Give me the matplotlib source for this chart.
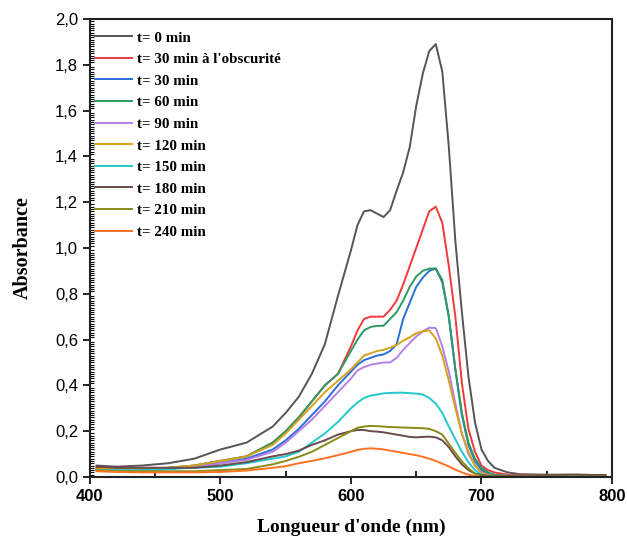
import matplotlib
matplotlib.use("Agg")
import matplotlib.pyplot as plt
from matplotlib.ticker import MultipleLocator, FuncFormatter

# wavelength grid (nm) shared by all spectra
wavelength = [405, 420, 440, 460, 480, 500, 520, 540, 550, 560, 570, 580, 590,
              600, 605, 610, 615, 620, 625, 630, 635, 640, 645, 650, 655, 660,
              665, 670, 675, 680, 685, 690, 695, 700, 705, 710, 720, 730, 750,
              770, 795]

abs_0 = [0.050, 0.045, 0.050, 0.060, 0.080, 0.120, 0.150, 0.220, 0.280, 0.350,
         0.450, 0.580, 0.790, 0.990, 1.100, 1.160, 1.165, 1.150, 1.135, 1.165,
         1.250, 1.330, 1.440, 1.620, 1.760, 1.860, 1.890, 1.770, 1.440, 1.030,
         0.720, 0.440, 0.240, 0.120, 0.070, 0.040, 0.020, 0.012, 0.010, 0.010,
         0.008]
abs_30_dark = [0.040, 0.040, 0.040, 0.040, 0.050, 0.070, 0.090, 0.150, 0.200,
               0.260, 0.330, 0.400, 0.450, 0.570, 0.640, 0.690, 0.700, 0.700,
               0.700, 0.730, 0.770, 0.840, 0.920, 1.000, 1.080, 1.160, 1.180,
               1.110, 0.920, 0.700, 0.410, 0.210, 0.110, 0.050, 0.030, 0.020,
               0.010, 0.010, 0.008, 0.008, 0.005]
abs_30 = [0.030, 0.030, 0.030, 0.035, 0.045, 0.060, 0.080, 0.120, 0.160, 0.210,
          0.270, 0.330, 0.400, 0.460, 0.490, 0.510, 0.520, 0.530, 0.535, 0.550,
          0.580, 0.690, 0.760, 0.830, 0.870, 0.900, 0.910, 0.850, 0.700, 0.470,
          0.270, 0.140, 0.070, 0.030, 0.015, 0.010, 0.005, 0.005, 0.005, 0.005,
          0.005]
abs_60 = [0.030, 0.030, 0.035, 0.040, 0.050, 0.070, 0.090, 0.150, 0.200, 0.260,
          0.330, 0.400, 0.450, 0.550, 0.600, 0.640, 0.655, 0.660, 0.660, 0.690,
          0.720, 0.770, 0.830, 0.875, 0.900, 0.910, 0.910, 0.860, 0.700, 0.470,
          0.280, 0.150, 0.080, 0.040, 0.020, 0.010, 0.005, 0.005, 0.005, 0.005,
          0.005]
abs_90 = [0.030, 0.030, 0.030, 0.035, 0.045, 0.060, 0.075, 0.110, 0.150, 0.200,
          0.250, 0.310, 0.370, 0.430, 0.465, 0.480, 0.490, 0.495, 0.500, 0.500,
          0.520, 0.555, 0.585, 0.613, 0.635, 0.652, 0.650, 0.570, 0.460, 0.320,
          0.190, 0.100, 0.050, 0.020, 0.010, 0.005, 0.005, 0.005, 0.005, 0.005,
          0.005]
abs_120 = [0.035, 0.035, 0.035, 0.040, 0.050, 0.070, 0.090, 0.140, 0.190, 0.250,
           0.310, 0.370, 0.420, 0.470, 0.500, 0.530, 0.540, 0.550, 0.555, 0.565,
           0.576, 0.595, 0.610, 0.627, 0.636, 0.640, 0.605, 0.530, 0.420, 0.300,
           0.190, 0.110, 0.050, 0.020, 0.008, 0.005, 0.005, 0.005, 0.005, 0.005,
           0.005]
abs_150 = [0.030, 0.030, 0.030, 0.035, 0.040, 0.045, 0.060, 0.080, 0.090, 0.110,
           0.150, 0.190, 0.240, 0.300, 0.325, 0.345, 0.355, 0.360, 0.365, 0.367,
           0.368, 0.368, 0.366, 0.364, 0.360, 0.345, 0.320, 0.280, 0.220, 0.165,
           0.110, 0.065, 0.030, 0.010, 0.005, 0.005, 0.005, 0.005, 0.005, 0.005,
           0.005]
abs_180 = [0.045, 0.040, 0.040, 0.040, 0.040, 0.050, 0.065, 0.090, 0.100, 0.115,
           0.140, 0.160, 0.185, 0.200, 0.205, 0.205, 0.200, 0.198, 0.195, 0.190,
           0.185, 0.180, 0.175, 0.173, 0.175, 0.176, 0.173, 0.160, 0.130, 0.090,
           0.055, 0.030, 0.015, 0.008, 0.005, 0.005, 0.005, 0.006, 0.008, 0.010,
           0.008]
abs_210 = [0.030, 0.025, 0.025, 0.025, 0.025, 0.030, 0.035, 0.055, 0.070, 0.088,
           0.110, 0.140, 0.170, 0.200, 0.215, 0.220, 0.223, 0.222, 0.220, 0.218,
           0.217, 0.216, 0.215, 0.214, 0.213, 0.210, 0.200, 0.185, 0.145, 0.105,
           0.068, 0.038, 0.015, 0.003, 0.002, 0.002, 0.002, 0.002, 0.002, 0.002,
           0.002]
abs_240 = [0.025, 0.022, 0.020, 0.020, 0.020, 0.022, 0.028, 0.040, 0.047, 0.060,
           0.070, 0.082, 0.095, 0.110, 0.118, 0.123, 0.125, 0.123, 0.120, 0.115,
           0.110, 0.105, 0.100, 0.095, 0.088, 0.080, 0.070, 0.058, 0.046, 0.032,
           0.020, 0.010, 0.004, 0.000, 0.000, 0.000, 0.000, 0.000, 0.000, 0.000,
           0.000]

labels = ["t= 0 min", "t= 30 min à l'obscurité", "t= 30 min", "t= 60 min",
          "t= 90 min", "t= 120 min", "t= 150 min", "t= 180 min", "t= 210 min",
          "t= 240 min"]
series = [abs_0, abs_30_dark, abs_30, abs_60, abs_90, abs_120, abs_150,
          abs_180, abs_210, abs_240]
colors = ["#555555", "#f0393c", "#2a6fd6", "#2e9a62", "#b77fe6", "#d4a21c",
          "#22c8cc", "#6a4a4a", "#8a8a16", "#ff7222"]

fig = plt.figure(figsize=(6.27, 5.44), dpi=100)
ax = fig.add_axes([0.1435, 0.1232, 0.8325, 0.842])

for y, lab, c in zip(series, labels, colors):
    ax.plot(wavelength, y, color=c, lw=1.4, label=lab)

ax.set_xlim(400, 800)
ax.set_ylim(0, 2.0)

ax.xaxis.set_major_locator(MultipleLocator(100))
ax.xaxis.set_minor_locator(MultipleLocator(50))
ax.yaxis.set_major_locator(MultipleLocator(0.2))
ax.yaxis.set_minor_locator(MultipleLocator(0.01))
ax.yaxis.set_major_formatter(FuncFormatter(lambda v, p: f"{v:.1f}".replace(".", ",")))

ax.tick_params(which="major", direction="out", length=5, width=1.2,
               top=False, right=False)
ax.tick_params(which="minor", direction="in", length=3, width=0.8,
               top=False, right=False)
ax.tick_params(axis="x", which="minor", length=4, width=1.2)

for lbl in ax.get_xticklabels():
    lbl.set_fontfamily("Liberation Sans")
    lbl.set_fontweight("bold")
    lbl.set_fontsize(12)
for lbl in ax.get_yticklabels():
    lbl.set_fontfamily("Liberation Sans")
    lbl.set_fontsize(12)

for sp in ax.spines.values():
    sp.set_linewidth(1.5)
    sp.set_color("#222222")

ax.set_xlabel("Longueur d'onde (nm)", family="Liberation Serif",
              fontweight="bold", fontsize=14, labelpad=11)
ax.set_ylabel("Absorbance", family="Liberation Serif", fontweight="bold",
              fontsize=14.5, labelpad=16)

ax.legend(loc="upper left", bbox_to_anchor=(-0.005, 0.99), frameon=False,
          handlelength=2.5, labelspacing=0.54, handletextpad=0.3,
          borderaxespad=0.0, borderpad=0.5,
          prop={"family": "Liberation Serif", "weight": "bold", "size": 10.8})

fig.savefig("out.png", dpi=100)
